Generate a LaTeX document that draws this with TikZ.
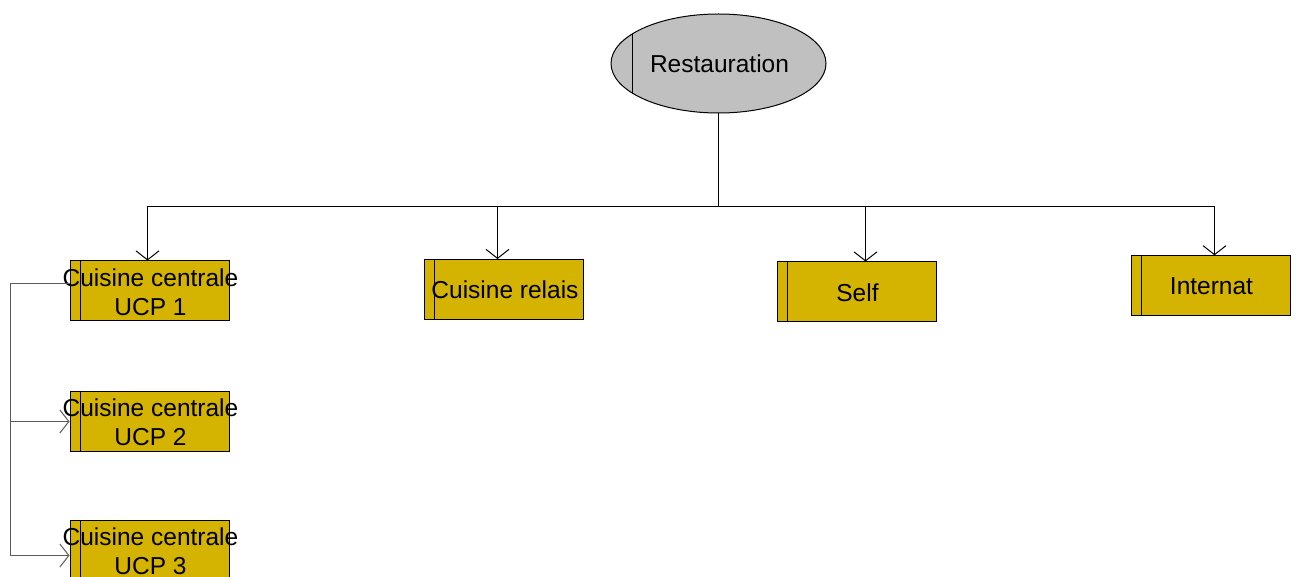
\documentclass[tikz,border=0pt]{standalone}
\usepackage{fontspec}
\setmainfont{Liberation Sans}
\usetikzlibrary{shapes.geometric,arrows.meta}
\definecolor{boxfill}{RGB}{212,180,0}
\definecolor{ellfill}{RGB}{192,192,192}
\definecolor{conngray}{RGB}{90,90,90}
\tikzset{
  box/.style={draw=black, fill=boxfill, line width=1pt, minimum width=159pt, minimum height=60pt, inner sep=0pt,
    path picture={\draw[line width=1pt] ([xshift=10pt]path picture bounding box.north west) -- ([xshift=10pt]path picture bounding box.south west);}},
  ell/.style={ellipse, draw=black, fill=ellfill, line width=1pt, minimum width=215pt, minimum height=99pt, inner sep=0pt,
    path picture={\draw[line width=1pt] ([xshift=21pt]path picture bounding box.north west) -- ([xshift=21pt]path picture bounding box.south west);}},
  lbl/.style={align=center, font=\fontsize{24.5}{29}\selectfont, inner sep=0pt},
  conn/.style={line width=1pt, -{Straight Barb[length=9pt,width=23pt,line width=1pt]}},
}
\begin{document}
\begin{tikzpicture}[x=1pt,y=-1pt]
\useasboundingbox (0,0) rectangle (1296,577);
\clip (0,0) rectangle (1296,577);
\node[ell] (rest) at (718.5,63.5) {};
\node[lbl] (restl) at (719.5,63.5) {Restauration};
\node[box] (b1) at (149.5,291) {};
\node[lbl] (b1l) at (150.5,292) {Cuisine centrale\\UCP 1};
\node[box] (b2) at (149.5,421) {};
\node[lbl] (b2l) at (150.5,422) {Cuisine centrale\\UCP 2};
\node[box] (b3) at (149.5,550) {};
\node[lbl] (b3l) at (150.5,551) {Cuisine centrale\\UCP 3};
\node[box] (relais) at (504.3,289.5) {};
\node[lbl] (relaisl) at (505,290) {Cuisine relais};
\node[box] (self) at (856.6,292) {};
\node[lbl] (selfl) at (857.5,293) {Self};
\node[box] (intern) at (1210.8,285.8) {};
\node[lbl] (internl) at (1211.5,286.5) {Internat};
\coordinate (bus) at (718.5,206.5);
\draw[line width=1pt] (rest.south) -- (bus);
\draw[conn] (bus) -| ([xshift=-2pt]b1.north);
\draw[conn] (bus) -| ([xshift=-6.8pt]relais.north);
\draw[conn] (bus) -| ([xshift=8.9pt]self.north);
\draw[conn] (bus) -| ([xshift=3.7pt]intern.north);
\coordinate (l1) at (10.5,283.5);
\coordinate (l2) at (10.5,421.5);
\coordinate (l3) at (10.5,555.5);
\draw[line width=1pt, draw=conngray] ([yshift=7.5pt]b1.west) -- (l1) -- (l3);
\draw[conn, draw=conngray] (l2) -- ([yshift=-0.5pt]b2.west);
\draw[conn, draw=conngray] (l3) -- ([yshift=-5.5pt]b3.west);
\end{tikzpicture}
\end{document}
